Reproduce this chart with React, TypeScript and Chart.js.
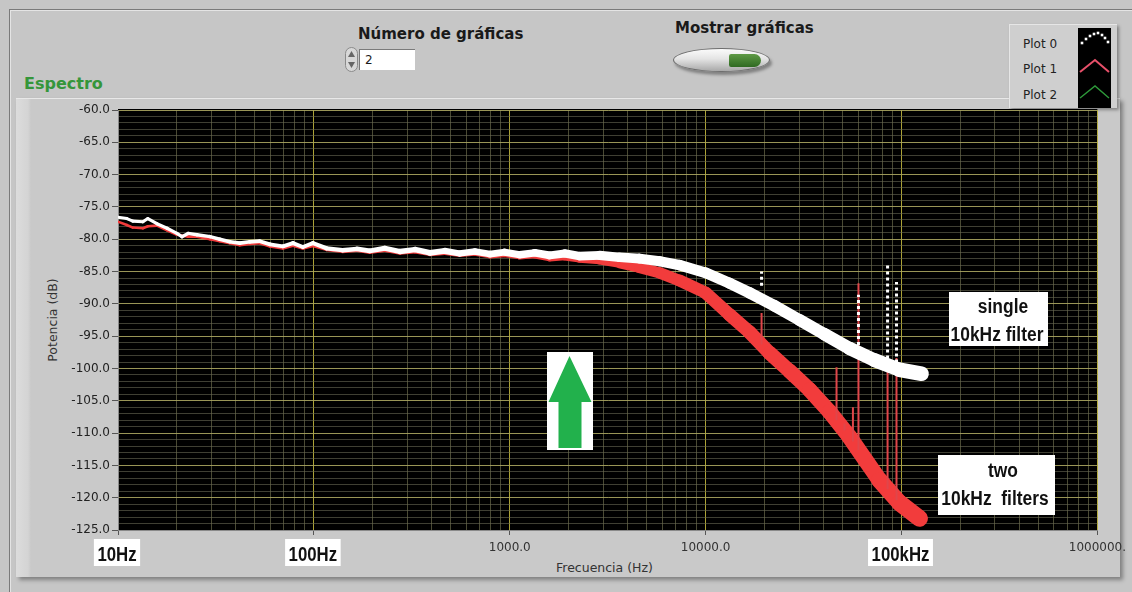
import React, { useEffect, useRef } from "react";
import { Chart, registerables } from "chart.js";

Chart.register(...registerables);

// ---------- data ----------
const plot0Freq = [10, 11.1, 11.9, 13.4, 14.2, 15.8, 17.8, 20, 21.2, 22.8, 25.3, 29.5, 33.1, 37.2, 41.9, 47.1, 53, 59.7, 69.5, 78.2, 87.9, 98.9, 116, 140, 166, 193, 230, 275, 328, 391, 466, 556, 663, 791, 943, 1125, 1341, 1600, 1908, 2276, 2877, 3640, 4603, 5821, 7362, 10000, 13262, 16770, 22490, 30170, 40460, 54280, 72790, 97700, 126500];
const plot0Db = [-76.6, -76.8, -77.2, -77.3, -76.8, -77.6, -78.3, -79.1, -79.6, -79.1, -79.3, -79.6, -80.0, -80.4, -80.6, -80.4, -80.3, -80.8, -81.1, -80.6, -81.2, -80.6, -81.4, -81.7, -81.5, -81.8, -81.4, -81.9, -81.6, -82.1, -81.8, -82.2, -81.9, -82.3, -82.0, -82.4, -82.1, -82.5, -82.2, -82.6, -82.5, -82.8, -83.0, -83.4, -84.0, -85.2, -86.8, -88.3, -90.3, -92.5, -94.7, -96.9, -98.7, -100.2, -100.8];

const plot1Freq = [10, 11.1, 11.9, 13.4, 14.2, 15.8, 17.8, 20, 22.8, 25.3, 29.5, 33.1, 37.2, 41.9, 47.1, 53, 59.7, 69.5, 78.2, 87.9, 98.9, 116, 140, 166, 193, 230, 275, 328, 391, 466, 556, 663, 791, 943, 1125, 1341, 1600, 1908, 2276, 2877, 3640, 4603, 5821, 7362, 10000, 13262, 16770, 21200, 26830, 33930, 42920, 54280, 77230, 97700, 123600];
const plot1Db = [-77.3, -77.8, -78.2, -78.3, -78.0, -77.9, -78.6, -79.3, -79.6, -79.6, -80.0, -80.3, -80.6, -80.9, -80.7, -80.6, -81.1, -81.4, -81.0, -81.4, -81.0, -81.6, -81.9, -81.7, -82.0, -81.7, -82.1, -81.9, -82.3, -82.1, -82.4, -82.2, -82.6, -82.4, -82.7, -82.5, -82.9, -82.7, -83.0, -83.2, -83.7, -84.4, -85.2, -86.4, -88.3, -91.7, -94.4, -97.6, -100.4, -103.3, -106.7, -110.6, -117.3, -120.8, -123.2];

// spikes (vertical strokes)
const spike0Freq = [19300, 60300, 84900, 94300];
const spike0Base = [-87.2, -97.3, -99.4, -100.0];
const spike0Top = [-85.0, -88.6, -84.0, -86.6];

const spike1Freq = [19300, 46600, 51200, 56500, 60300, 84900, 94300];
const spike1Base = [-96.3, -108.0, -109.6, -111.3, -112.6, -118.7, -120.4];
const spike1Top = [-91.4, -99.8, -108.5, -106.0, -86.8, -98.6, -98.4];

// axes
const xMin = 10;
const xMax = 1000000;
const yMin = -125;
const yMax = -60;
const yLabelEvery = 5;
const xLabelValues = [1000, 10000, 1000000];
const xLabelTexts = ["1000.0", "10000.0", "1000000."];
const boxedXValues = [10, 100, 100000];
const boxedXTexts = ["10Hz", "100Hz", "100kHz"];
const legendNames = ["Plot 0", "Plot 1", "Plot 2"];

// ---------- style helpers ----------
const interp = (v: number, xs: number[], ys: number[]) => {
  if (v <= xs[0]) return ys[0];
  for (let i = 1; i < xs.length; i++) {
    if (v <= xs[i]) {
      const t = (v - xs[i - 1]) / (xs[i] - xs[i - 1]);
      return ys[i - 1] + t * (ys[i] - ys[i - 1]);
    }
  }
  return ys[ys.length - 1];
};
const whiteW = (f: number) => interp(Math.log10(f), [1, 2, 3, 3.7, 4.5, 5.1], [3, 4, 7, 10, 12, 15]);
const redW = (f: number) => interp(Math.log10(f), [1, 2, 3, 3.7, 4.5, 5.1], [2.5, 3, 5, 11, 15, 17]);
const isDecade = (v: number) => Math.abs(Math.log10(v) - Math.round(Math.log10(v))) < 1e-9;

const UI_FONT = "'DejaVu Sans', Verdana, sans-serif";
const BOX_FONT = "'Liberation Sans', Arial, sans-serif";

const bgPlugin = {
  id: "blackArea",
  beforeDraw(chart: any) {
    const { ctx, chartArea } = chart;
    ctx.save();
    ctx.fillStyle = "#000";
    ctx.fillRect(chartArea.left, chartArea.top - 1, chartArea.right - chartArea.left, chartArea.bottom - chartArea.top + 1);
    ctx.restore();
  },
};

const drawCondensed = (ctx: CanvasRenderingContext2D, text: string, cx: number, baseline: number, sx: number) => {
  ctx.save();
  ctx.translate(cx, baseline);
  ctx.scale(sx, 1);
  ctx.textAlign = "center";
  ctx.textBaseline = "alphabetic";
  ctx.fillText(text, 0, 0);
  ctx.restore();
};

const annotPlugin = {
  id: "annotations",
  afterDraw(chart: any) {
    const { ctx, chartArea } = chart;
    const xs = chart.scales.x;
    ctx.save();
    // boxed frequency labels
    ctx.font = `bold 20px ${BOX_FONT}`;
    boxedXValues.forEach((v, i) => {
      const px = xs.getPixelForValue(v);
      const t = boxedXTexts[i];
      const w = ctx.measureText(t).width * 0.84 + 7;
      ctx.fillStyle = "#ffffff";
      ctx.fillRect(px - w / 2 - 1, chartArea.bottom + 9, w, 27);
      ctx.fillStyle = "#111";
      drawCondensed(ctx, t, px - 1, chartArea.bottom + 31, 0.84);
    });
    // "single 10kHz filter"
    ctx.fillStyle = "#ffffff";
    ctx.fillRect(949, 292, 99, 54);
    ctx.fillStyle = "#111";
    ctx.font = `bold 20px ${BOX_FONT}`;
    drawCondensed(ctx, "single", 1003, 313, 0.87);
    drawCondensed(ctx, "10kHz filter", 997, 341, 0.87);
    // "two 10kHz filters"
    ctx.fillStyle = "#ffffff";
    ctx.fillRect(938, 455, 117, 60);
    ctx.fillStyle = "#111";
    drawCondensed(ctx, "two", 1003, 477, 0.87);
    drawCondensed(ctx, "10kHz  filters", 995, 505, 0.87);
    // green arrow
    ctx.fillStyle = "#ffffff";
    ctx.fillRect(547, 352, 46, 98);
    ctx.fillStyle = "#22b14c";
    ctx.beginPath();
    ctx.moveTo(569.5, 356);
    ctx.lineTo(591.5, 402);
    ctx.lineTo(581.5, 402);
    ctx.lineTo(581.5, 448);
    ctx.lineTo(558.5, 448);
    ctx.lineTo(558.5, 402);
    ctx.lineTo(548.5, 402);
    ctx.closePath();
    ctx.fill();
    ctx.restore();
  },
};

const spikePoints = (freq: number[], base: number[], top: number[]) =>
  freq.flatMap((f, i) => [
    { x: f, y: base[i] },
    { x: f, y: top[i] },
    { x: f, y: null as any },
  ]);

export default function App() {
  const canvasRef = useRef<HTMLCanvasElement>(null);

  useEffect(() => {
    const canvas = canvasRef.current;
    if (!canvas) return;
    const whiteData = plot0Freq.map((f, i) => ({ x: f, y: plot0Db[i] }));
    const redData = plot1Freq.map((f, i) => ({ x: f, y: plot1Db[i] }));

    const chart = new Chart(canvas, {
      type: "line",
      data: {
        datasets: [
          {
            label: "Plot 0 spikes",
            data: spikePoints(spike0Freq, spike0Base, spike0Top),
            borderColor: "#ffffff",
            borderWidth: 3,
            borderDash: [3, 3],
            pointRadius: 0,
            spanGaps: false,
          },
          {
            label: "Plot 0",
            data: whiteData,
            borderColor: "#ffffff",
            borderWidth: 4,
            borderCapStyle: "round",
            borderJoinStyle: "round",
            pointRadius: 0,
            segment: {
              borderWidth: (c: any) => whiteW(Math.sqrt(c.p0.parsed.x * c.p1.parsed.x)),
            },
          },
          {
            label: "Plot 1 spikes",
            data: spikePoints(spike1Freq, spike1Base, spike1Top),
            borderColor: "#e0464a",
            borderWidth: 2,
            pointRadius: 0,
            spanGaps: false,
          },
          {
            label: "Plot 1",
            data: redData,
            borderColor: "#f23c3c",
            borderWidth: 3,
            borderCapStyle: "round",
            borderJoinStyle: "round",
            pointRadius: 0,
            segment: {
              borderWidth: (c: any) => redW(Math.sqrt(c.p0.parsed.x * c.p1.parsed.x)),
            },
          },
        ] as any,
      },
      options: {
        animation: false,
        responsive: false,
        maintainAspectRatio: false,
        devicePixelRatio: 1,
        layout: { autoPadding: false, padding: { left: 0, right: 33, top: 110, bottom: 0 } },
        plugins: { legend: { display: false }, tooltip: { enabled: false }, title: { display: false } },
        elements: { line: { tension: 0 } },
        scales: {
          x: {
            type: "logarithmic",
            min: xMin,
            max: xMax,
            afterBuildTicks: (scale: any) => {
              const t: any[] = [];
              for (let e = 1; e < 6; e++) for (let m = 1; m < 10; m++) t.push({ value: m * Math.pow(10, e) });
              t.push({ value: xMax });
              scale.ticks = t;
            },
            afterFit: (scale: any) => {
              scale.height = 62;
            },
            ticks: {
              autoSkip: false,
              maxRotation: 0,
              minRotation: 0,
              padding: 6,
              color: "#333",
              font: { family: UI_FONT, size: 12 },
              callback: (v: any) => {
                const idx = xLabelValues.findIndex((x) => Math.abs(x - Number(v)) < 1e-6);
                return idx >= 0 ? xLabelTexts[idx] : "";
              },
            },
            grid: {
              color: (c: any) => (c.tick && isDecade(c.tick.value) ? "rgba(190,180,60,0.9)" : "rgba(135,135,95,0.55)"),
              tickColor: (c: any) => (c.tick && isDecade(c.tick.value) ? "#555" : "rgba(0,0,0,0)"),
              tickLength: 5,
              lineWidth: 1,
            },
            border: { display: true, color: "#8a8a8a" },
          },
          y: {
            type: "linear",
            min: yMin,
            max: yMax,
            afterBuildTicks: (scale: any) => {
              const t: any[] = [];
              for (let v = yMin; v <= yMax; v++) t.push({ value: v });
              scale.ticks = t;
            },
            afterFit: (scale: any) => {
              scale.width = 118;
            },
            ticks: {
              autoSkip: false,
              padding: 2,
              color: "#222",
              font: { family: UI_FONT, size: 12 },
              callback: (v: any) => (Number(v) % yLabelEvery === 0 ? Number(v).toFixed(1) : ""),
            },
            grid: {
              color: (c: any) => (c.tick && c.tick.value % yLabelEvery === 0 ? "rgba(170,165,95,0.9)" : "rgba(105,105,85,0.6)"),
              tickColor: (c: any) => (c.tick && c.tick.value % yLabelEvery === 0 ? "#555" : "rgba(0,0,0,0)"),
              tickLength: 6,
              lineWidth: 1,
            },
            border: { display: true, color: "#8a8a8a" },
          },
        },
      } as any,
      plugins: [bgPlugin, annotPlugin],
    });
    return () => chart.destroy();
  }, []);

  const abs = (s: React.CSSProperties): React.CSSProperties => ({ position: "absolute", ...s });

  return (
    <div
      style={{
        position: "fixed",
        left: 0,
        top: 0,
        width: 1132,
        height: 592,
        overflow: "hidden",
        background: "#c6c6c6",
        fontFamily: UI_FONT,
        color: "#1a1a1a",
      }}
    >
      {/* outer frame */}
      <div style={abs({ left: 9, top: 9, width: 1130, height: 590, borderTop: "1px solid #7a7a7a", borderLeft: "1px solid #7a7a7a", boxShadow: "inset 1px 1px 0 #e4e4e4" })} />
      {/* graph panel */}
      <div
        style={abs({
          left: 16,
          top: 98,
          width: 1104,
          height: 478,
          background: "linear-gradient(to right, #dcdcdc 0px, #d4d4d4 12px, #c9c9c9 15px)",
          borderTop: "1px solid #e8e8e8",
          boxShadow: "3px 3px 4px rgba(0,0,0,0.35)",
        })}
      />
      {/* graph caption */}
      <div style={abs({ left: 24, top: 76, fontSize: 16, lineHeight: 1, fontWeight: "bold", color: "#35963a", whiteSpace: "nowrap" })}>Espectro</div>

      {/* numeric control */}
      <div style={abs({ left: 358, top: 27, fontSize: 15, lineHeight: 1, fontWeight: "bold", whiteSpace: "nowrap" })}>Número de gráficas</div>
      <svg width="13" height="25" style={abs({ left: 345, top: 47 })}>
        <rect x="0.5" y="0.5" width="12" height="24" rx="6" fill="#d8d8d8" stroke="#8a8a8a" />
        <path d="M3 10 L6.5 4 L10 10 Z" fill="#666" />
        <path d="M3 15 L6.5 21 L10 15 Z" fill="#666" />
      </svg>
      <div style={abs({ left: 359, top: 49, width: 56, height: 21, background: "#fff", borderTop: "1px solid #7a7a7a", borderLeft: "1px solid #7a7a7a", boxSizing: "border-box", fontSize: 12, lineHeight: "20px", paddingLeft: 5 })}>2</div>

      {/* toggle */}
      <div style={abs({ left: 675, top: 21, fontSize: 15, lineHeight: 1, fontWeight: "bold", whiteSpace: "nowrap" })}>Mostrar gráficas</div>
      <div
        style={abs({
          left: 673,
          top: 48,
          width: 97,
          height: 24,
          borderRadius: "50%",
          background: "linear-gradient(to bottom, #fbfbfb 0%, #e4e4e4 45%, #a9a9a9 100%)",
          border: "1px solid #6e6e6e",
          boxShadow: "2px 3px 3px rgba(0,0,0,0.35)",
          boxSizing: "border-box",
        })}
      />
      <div style={abs({ left: 729, top: 54, width: 32, height: 13, borderRadius: "3px 9px 9px 3px", background: "linear-gradient(to bottom, #5f9a46, #2f6a22)" })} />

      {/* legend */}
      <div style={abs({ left: 1009, top: 24, width: 108, height: 84, background: "#cfcfcf", borderTop: "1px solid #e6e6e6", borderLeft: "1px solid #e6e6e6", boxShadow: "2px 2px 3px rgba(0,0,0,0.35)", boxSizing: "border-box" })} />
      {legendNames.map((n, i) => (
        <div key={n} style={abs({ left: 1023, top: 37.6 + i * 25.5, fontSize: 12, lineHeight: 1, color: "#222", whiteSpace: "nowrap" })}>{n}</div>
      ))}
      <svg width="33" height="80" style={abs({ left: 1078, top: 28 })}>
        <rect width="33" height="80" fill="#000" />
        {[[4, 15], [8, 11], [12, 8], [16, 6], [20, 5], [24, 7], [27, 10], [30, 14]].map(([x, y], i) => (
          <rect key={i} x={x - 1.3} y={y - 1.3} width="2.6" height="2.6" fill="#fff" />
        ))}
        <polyline points="2,44 17,32 31,44" fill="none" stroke="#e8506a" strokeWidth="2" />
        <polyline points="2,70 17,58 31,70" fill="none" stroke="#2e9a3a" strokeWidth="1.4" />
      </svg>

      {/* axis titles */}
      <div style={abs({ left: 53, top: 320, fontSize: 12.5, lineHeight: 1, color: "#333", whiteSpace: "nowrap", transform: "translate(-50%, -50%) rotate(-90deg)" })}>Potencia (dB)</div>
      <div style={abs({ left: 556, top: 562, fontSize: 12.5, lineHeight: 1, color: "#333", whiteSpace: "nowrap" })}>Frecuencia (Hz)</div>

      <canvas ref={canvasRef} width={1132} height={592} style={abs({ left: 0, top: 0, width: 1132, height: 592 })} />
    </div>
  );
}
